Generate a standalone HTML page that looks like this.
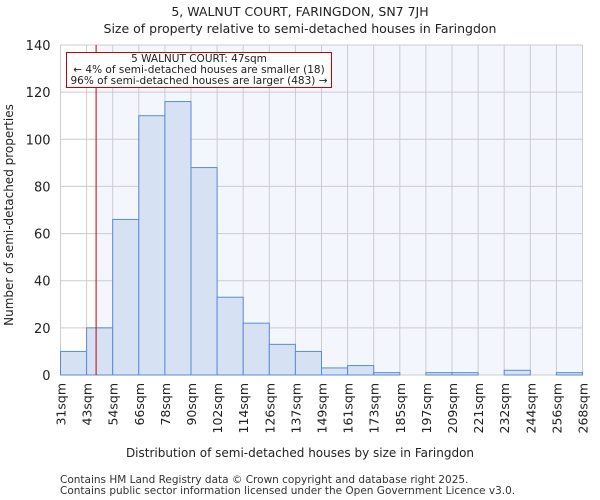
<!DOCTYPE html>
<html><head><meta charset="utf-8"><style>
html,body{margin:0;padding:0;background:#fff;}
svg{display:block;font-family:"DejaVu Sans","Liberation Sans",sans-serif;}
</style></head><body>
<svg id="chart" width="600" height="500" viewBox="0 0 600 500">
<text x="300" y="16" text-anchor="middle" font-size="12.5" fill="#222">5, WALNUT COURT, FARINGDON, SN7 7JH</text>
<text x="300" y="33" text-anchor="middle" font-size="12.5" fill="#222">Size of property relative to semi-detached houses in Faringdon</text>
<g id="plot"></g>
<text x="300" y="457" text-anchor="middle" font-size="12" fill="#222">Distribution of semi-detached houses by size in Faringdon</text>
<text transform="translate(13,215) rotate(-90)" text-anchor="middle" font-size="12" fill="#222">Number of semi-detached properties</text>
<text x="60" y="483" font-size="10.5" fill="#333">Contains HM Land Registry data © Crown copyright and database right 2025.</text>
<text x="60" y="494" font-size="10.5" fill="#333">Contains public sector information licensed under the Open Government Licence v3.0.</text>
</svg>
<script>
const binLabels=["31sqm","43sqm","54sqm","66sqm","78sqm","90sqm","102sqm","114sqm","126sqm","137sqm","149sqm","161sqm","173sqm","185sqm","197sqm","209sqm","221sqm","232sqm","244sqm","256sqm","268sqm"];
const counts=[10,20,66,110,116,88,33,22,13,10,3,4,1,0,1,1,0,2,0,1];
const yTicks=[0,20,40,60,80,100,120,140];
const binEdges=[31,43,54,66,78,90,102,114,126,137,149,161,173,185,197,209,221,232,244,256,268];
const markerValue=47;

const NS="http://www.w3.org/2000/svg";
const L=60.5,R=582.5,T=45,B=375,yMax=140;
const nb=counts.length, bw=(R-L)/nb;
const xi=i=>L+i*bw;
const y=v=>B-(v/yMax)*(B-T);
function xv(v){let i=0;while(i<binEdges.length-2&&v>binEdges[i+1])i++;return xi(i)+bw*(v-binEdges[i])/(binEdges[i+1]-binEdges[i]);}
const g=document.getElementById('plot');
function mk(t,a){const e=document.createElementNS(NS,t);for(const k in a)e.setAttribute(k,a[k]);g.appendChild(e);return e;}
const mx=xv(markerValue);
let bg=mk('rect',{x:mx,y:T,width:R-mx,height:B-T,fill:'#f3f6fd'});


for(let i=0;i<=nb;i++){let l=mk('line',{x1:xi(i),x2:xi(i),y1:T,y2:B,stroke:'#cccccc','stroke-width':1});

}
yTicks.forEach(v=>{let l=mk('line',{x1:L,x2:R,y1:y(v),y2:y(v),stroke:'#cccccc','stroke-width':1});


let t=mk('text',{x:L-10,y:y(v)+5,'text-anchor':'end','font-size':13,fill:'#222'});t.textContent=v;

});
counts.forEach((c,i)=>{if(c<=0)return;let r=mk('rect',{x:xi(i),y:y(c),width:bw,height:B-y(c),fill:'#d6e1f3',stroke:'#5b8bd6','stroke-width':1});

});
binLabels.forEach((s,i)=>{let t=mk('text',{transform:`translate(${xi(i)+5},383) rotate(-90)`,'text-anchor':'end','font-size':12.5,fill:'#222'});t.textContent=s;

});
let ml=mk('line',{x1:mx,x2:mx,y1:T,y2:B,stroke:'#cc0000','stroke-width':1});


let box=mk('rect',{x:66.5,y:52.5,width:265,height:35,fill:'#fff',stroke:'#cc0000','stroke-width':1});


["5 WALNUT COURT: 47sqm","← 4% of semi-detached houses are smaller (18)","96% of semi-detached houses are larger (483) →"].forEach((s,k)=>{let t=mk('text',{x:199,y:62+k*11,'text-anchor':'middle','font-size':10.5,fill:'#222'});t.textContent=s;

});
</script>
</body></html>
